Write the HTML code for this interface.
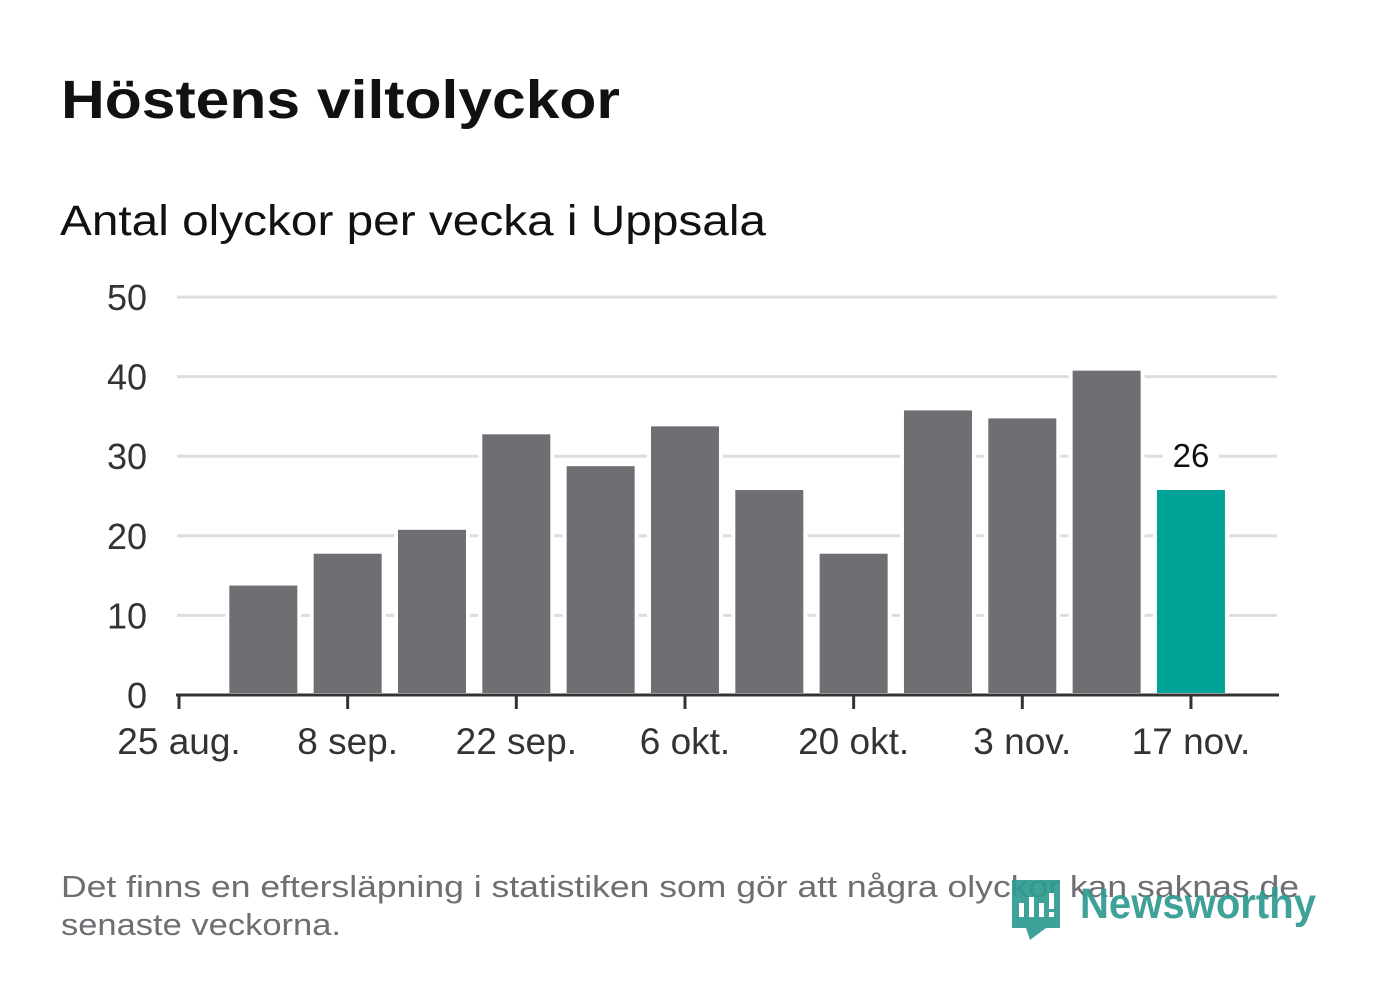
<!DOCTYPE html>
<html><head><meta charset="utf-8"><style>
html,body{margin:0;padding:0;background:#fff;}
body{width:1382px;height:999px;overflow:hidden;font-family:"Liberation Sans",sans-serif;}
</style></head><body>
<svg id="chart" width="1382" height="999" xmlns="http://www.w3.org/2000/svg">
<text x="61" y="118" font-size="54" font-weight="bold" fill="#111" textLength="559" lengthAdjust="spacingAndGlyphs">Höstens viltolyckor</text>
<text x="60" y="235" font-size="43" fill="#111" textLength="706" lengthAdjust="spacingAndGlyphs">Antal olyckor per vecka i Uppsala</text>
<g id="grid"></g><g id="bars"></g><g id="axis"></g>
<text font-size="31" fill="#6f6e73"><tspan x="61" y="897" textLength="1238" lengthAdjust="spacingAndGlyphs">Det finns en eftersläpning i statistiken som gör att några olyckor kan saknas de</tspan><tspan x="61" y="935" textLength="280" lengthAdjust="spacingAndGlyphs">senaste veckorna.</tspan></text>
<g opacity="0.92">
<path d="M1012 880 H1060 V928 H1046 L1030 940 L1026 928 H1012 Z" fill="#2e9b90"/>
<rect x="1019" y="903" width="5" height="14" fill="#fff"/><rect x="1029" y="897" width="5" height="20" fill="#fff"/><rect x="1039" y="903" width="5" height="14" fill="#fff"/><rect x="1049" y="893" width="5" height="16" fill="#fff"/><rect x="1049" y="912" width="5" height="5" fill="#fff"/>
<text x="1080" y="918" font-size="43" font-weight="bold" fill="#2e9b90" textLength="236" lengthAdjust="spacingAndGlyphs">Newsworthy</text>
</g>
</svg>
<script>
const categories=["1 sep","8 sep","15 sep","22 sep","29 sep","6 okt","13 okt","20 okt","27 okt","3 nov","10 nov","17 nov"];
const values=[14,18,21,33,29,34,26,18,36,35,41,26];
const yTicks=[0,10,20,30,40,50];
const xTickLabels=["25 aug.","8 sep.","22 sep.","6 okt.","20 okt.","3 nov.","17 nov."];
const NS="http://www.w3.org/2000/svg";
const x=w=>179+84.33*w;
const y=v=>695-7.96*v;
function mk(t,a,p){const e=document.createElementNS(NS,t);for(const k in a)e.setAttribute(k,a[k]);p.appendChild(e);return e;}
const grid=document.getElementById('grid'),bars=document.getElementById('bars'),axis=document.getElementById('axis');
yTicks.forEach(v=>{
 if(v>0){const l=mk('line',{x1:177,x2:1277,y1:y(v),y2:y(v),stroke:'#ddd','stroke-width':3},grid);
 
 }
 const t=mk('text',{x:147,y:y(v)+13,'text-anchor':'end','font-size':36,fill:'#333'},grid);t.textContent=v;
 
 
});
values.forEach((v,i)=>{
 const last=i===values.length-1;
 const r=mk('rect',{x:x(i+1)-36,y:y(v),width:72,height:y(0)-y(v),fill:last?'#00a398':'#6f6e73',stroke:'#fff','stroke-width':4},bars);
 
 
 if(last){
  const bg=mk('rect',{x:x(i+1)-28,y:y(v)-48,width:56,height:36,fill:'#fff'},bars);
  
  
  const t=mk('text',{x:x(i+1),y:y(v)-21,'text-anchor':'middle','font-size':33,fill:'#111'},bars);t.textContent=v;
  
  
 }
});
const base=mk('line',{x1:176,x2:1279,y1:695,y2:695,stroke:'#333','stroke-width':3},axis);


xTickLabels.forEach((s,i)=>{
 const tk=mk('line',{x1:x(i*2),x2:x(i*2),y1:695,y2:709,stroke:'#333','stroke-width':3},axis);
 
 
 const t=mk('text',{x:x(i*2),y:754,'text-anchor':'middle','font-size':37,fill:'#333'},axis);t.textContent=s;
 
 
});
</script>
</body></html>
